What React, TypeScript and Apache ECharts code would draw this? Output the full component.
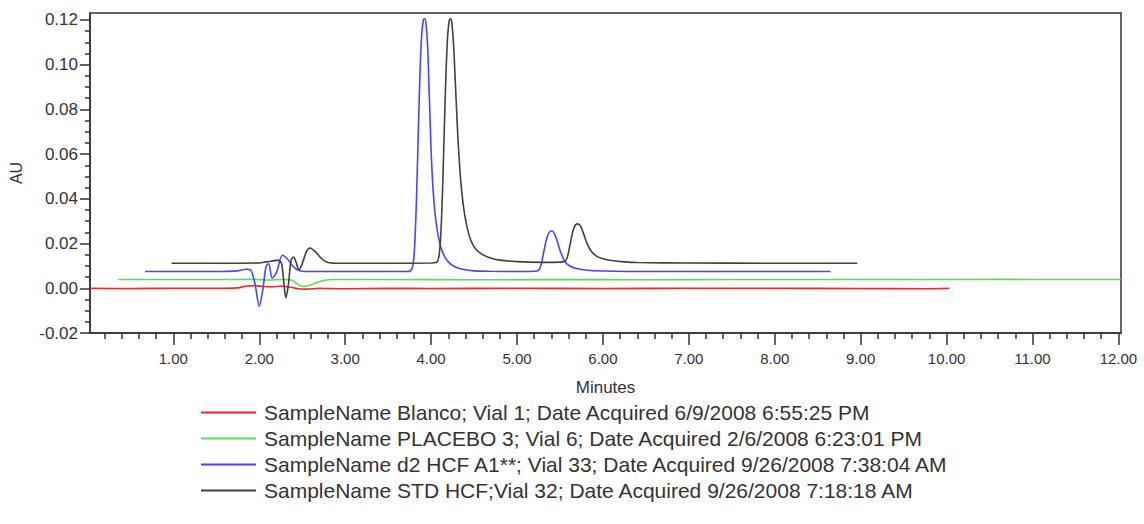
import React, { useEffect, useRef } from "react";
import * as echarts from "echarts";

const seriesNames = [
  "SampleName Blanco; Vial 1; Date Acquired 6/9/2008 6:55:25 PM",
  "SampleName PLACEBO 3; Vial 6; Date Acquired 2/6/2008 6:23:01 PM",
  "SampleName d2 HCF A1**; Vial 33; Date Acquired 9/26/2008 7:38:04 AM",
  "SampleName STD HCF;Vial 32; Date Acquired 9/26/2008 7:18:18 AM",
];
const seriesColors = ["#f02828", "#55e055", "#4646ff", "#404040"];

const blanco: number[][] = [
  [0.03, 0.0], [0.5, -0.0001], [1.0, 0.0], [1.5, 0.0], [1.75, 0.0002], [1.85, 0.001],
  [1.95, 0.0012], [2.05, 0.0008], [2.15, 0.0006], [2.25, 0.001], [2.35, 0.0006],
  [2.45, -0.0002], [2.55, -0.0004], [2.7, 0.0], [3.0, -0.0002], [3.5, 0.0], [4.0, -0.0001],
  [5.0, 0.0], [6.0, -0.0001], [7.0, 0.0], [8.0, 0.0], [9.0, -0.0001], [9.75, -0.0002], [10.03, 0.0],
];

const placebo: number[][] = [
  [0.36, 0.0039], [1.0, 0.0039], [1.5, 0.0039], [1.9, 0.004], [2.1, 0.0037], [2.3, 0.0039],
  [2.38, 0.0037], [2.43, 0.0022], [2.5, 0.0008], [2.58, 0.0012], [2.66, 0.0025], [2.75, 0.0035],
  [2.85, 0.0039], [3.5, 0.0039], [4.5, 0.0038], [5.5, 0.0039], [6.5, 0.0038], [7.5, 0.0039],
  [8.5, 0.0039], [9.5, 0.0039], [10.5, 0.004], [11.5, 0.0039], [12.03, 0.0039],
];

const d2hcf: number[][] = [
  [0.67, 0.0075], [1.5, 0.0075], [1.75, 0.0078], [1.85, 0.0085], [1.9, 0.0082], [1.95, 0.002],
  [2.0, -0.008], [2.04, -0.001], [2.08, 0.01], [2.11, 0.011], [2.15, 0.0045], [2.2, 0.007],
  [2.27, 0.0148], [2.33, 0.013], [2.4, 0.0095], [2.47, 0.0078], [2.55, 0.0075], [3.0, 0.0075],
  [3.5, 0.0075], [3.72, 0.0075], [3.76, 0.0078], [3.79, 0.0105], [3.81, 0.02], [3.83, 0.04],
  [3.85, 0.068], [3.87, 0.095], [3.89, 0.113], [3.91, 0.12], [3.925, 0.1205], [3.94, 0.1185],
  [3.96, 0.108], [3.98, 0.085], [4.0, 0.062], [4.02, 0.046], [4.05, 0.032], [4.09, 0.022],
  [4.14, 0.0155], [4.2, 0.0118], [4.28, 0.0095], [4.38, 0.0084], [4.5, 0.0078], [4.7, 0.0076],
  [5.0, 0.0075], [5.2, 0.0076], [5.25, 0.008], [5.28, 0.0105], [5.31, 0.016], [5.34, 0.0215],
  [5.37, 0.0248], [5.4, 0.0256], [5.43, 0.0248], [5.46, 0.022], [5.5, 0.017], [5.55, 0.0125],
  [5.6, 0.0103], [5.68, 0.009], [5.8, 0.0082], [6.0, 0.0077], [6.3, 0.0075], [7.0, 0.0075],
  [8.0, 0.0075], [8.65, 0.0075],
];

const stdhcf: number[][] = [
  [0.98, 0.0112], [1.5, 0.0112], [2.0, 0.0113], [2.08, 0.0118], [2.15, 0.0122], [2.22, 0.0126],
  [2.26, 0.011], [2.29, 0.001], [2.31, -0.0043], [2.34, 0.002], [2.37, 0.0125], [2.4, 0.014],
  [2.43, 0.0115], [2.46, 0.0082], [2.5, 0.011], [2.55, 0.0165], [2.59, 0.018], [2.65, 0.0165],
  [2.72, 0.0135], [2.8, 0.0115], [2.9, 0.0112], [3.5, 0.0112], [4.0, 0.0113], [4.06, 0.0115],
  [4.09, 0.014], [4.11, 0.022], [4.13, 0.04], [4.15, 0.066], [4.17, 0.092], [4.19, 0.111],
  [4.21, 0.1195], [4.225, 0.1205], [4.24, 0.119], [4.26, 0.11], [4.28, 0.094], [4.3, 0.077],
  [4.32, 0.062], [4.35, 0.046], [4.39, 0.033], [4.44, 0.024], [4.5, 0.0185], [4.58, 0.0155],
  [4.68, 0.0137], [4.8, 0.0126], [5.0, 0.0119], [5.3, 0.0116], [5.5, 0.0117], [5.56, 0.012],
  [5.59, 0.0145], [5.62, 0.02], [5.65, 0.0255], [5.68, 0.0283], [5.71, 0.0288], [5.74, 0.0278],
  [5.77, 0.025], [5.81, 0.0205], [5.86, 0.0168], [5.92, 0.0145], [6.0, 0.0132], [6.1, 0.0124],
  [6.25, 0.0118], [6.4, 0.0115], [7.0, 0.0113], [8.0, 0.0112], [8.96, 0.0112],
];

const xMajorTicks = [1, 2, 3, 4, 5, 6, 7, 8, 9, 10, 11, 12];
const xMinorTicks = [
  0.2, 0.4, 0.6, 0.8, 1.2, 1.4, 1.6, 1.8, 2.2, 2.4, 2.6, 2.8, 3.2, 3.4, 3.6, 3.8,
  4.2, 4.4, 4.6, 4.8, 5.2, 5.4, 5.6, 5.8, 6.2, 6.4, 6.6, 6.8, 7.2, 7.4, 7.6, 7.8,
  8.2, 8.4, 8.6, 8.8, 9.2, 9.4, 9.6, 9.8, 10.2, 10.4, 10.6, 10.8, 11.2, 11.4, 11.6, 11.8,
];
const yMajorTicks = [-0.02, 0, 0.02, 0.04, 0.06, 0.08, 0.1, 0.12];
const yMinorTicks = [
  -0.015, -0.01, -0.005, 0.005, 0.01, 0.015, 0.025, 0.03, 0.035, 0.045, 0.05, 0.055,
  0.065, 0.07, 0.075, 0.085, 0.09, 0.095, 0.105, 0.11, 0.115,
];

const X_MIN = 0.03;
const X_MAX = 12.03;
const Y_MIN = -0.02;
const Y_MAX = 0.1231;

const FONT = "'Liberation Sans', Arial, sans-serif";
const AXIS_COLOR = "#333";

export default function App() {
  const ref = useRef<HTMLDivElement>(null);
  useEffect(() => {
    if (!ref.current) return;
    const chart = echarts.init(ref.current, undefined, { renderer: "svg" });
    const datasets = [blanco, placebo, d2hcf, stdhcf];
    const baseX = {
      type: "value" as const,
      min: X_MIN,
      max: X_MAX,
      position: "bottom" as const,
      splitLine: { show: false },
    };
    const baseY = {
      type: "value" as const,
      min: Y_MIN,
      max: Y_MAX,
      position: "left" as const,
      splitLine: { show: false },
    };
    chart.setOption({
      animation: false,
      backgroundColor: "#fff",
      textStyle: { fontFamily: FONT },
      grid: {
        left: 88,
        right: 23,
        top: 13,
        bottom: 191,
        show: true,
        borderColor: AXIS_COLOR,
        borderWidth: 1.5,
        backgroundColor: "transparent",
      },
      legend: {
        orient: "vertical",
        left: 196,
        top: 397,
        itemWidth: 55,
        itemHeight: 14,
        itemGap: 5,
        icon: "path://M0,6 L55,6 L55,8 L0,8 Z",
        textStyle: { fontSize: 21, lineHeight: 21, color: "#333", fontFamily: FONT, padding: [0, 0, 0, 3] },
        data: seriesNames,
      },
      xAxis: [
        {
          ...baseX,
          name: "Minutes",
          nameLocation: "middle",
          nameGap: 46,
          nameTextStyle: { fontSize: 17, color: AXIS_COLOR, fontFamily: FONT },
          axisLine: { show: true, onZero: false, lineStyle: { color: AXIS_COLOR, width: 1.5 } },
          axisTick: { show: true, customValues: xMajorTicks, length: 12, lineStyle: { color: AXIS_COLOR, width: 1.5 } },
          axisLabel: {
            customValues: xMajorTicks,
            formatter: (v: number) => v.toFixed(2),
            fontSize: 15,
            color: AXIS_COLOR,
            margin: 18,
            fontFamily: FONT,
          },
        },
        {
          ...baseX,
          axisLine: { show: false, onZero: false },
          axisTick: { show: true, customValues: xMinorTicks, length: 6, lineStyle: { color: AXIS_COLOR, width: 1.5 } },
          axisLabel: { show: false },
        },
      ],
      yAxis: [
        {
          ...baseY,
          name: "AU",
          nameLocation: "middle",
          nameGap: 66,
          nameRotate: 90,
          nameTextStyle: { fontSize: 16, color: AXIS_COLOR, fontFamily: FONT },
          axisLine: { show: true, onZero: false, lineStyle: { color: AXIS_COLOR, width: 1.5 } },
          axisTick: { show: true, customValues: yMajorTicks, length: 10, lineStyle: { color: AXIS_COLOR, width: 1.5 } },
          axisLabel: {
            customValues: yMajorTicks,
            formatter: (v: number) => v.toFixed(2),
            fontSize: 17,
            color: AXIS_COLOR,
            margin: 12,
            fontFamily: FONT,
          },
        },
        {
          ...baseY,
          axisLine: { show: false, onZero: false },
          axisTick: { show: true, customValues: yMinorTicks, length: 5, lineStyle: { color: AXIS_COLOR, width: 1.5 } },
          axisLabel: { show: false },
        },
      ],
      series: datasets.map((d, i) => ({
        name: seriesNames[i],
        type: "line",
        data: d,
        xAxisIndex: 0,
        yAxisIndex: 0,
        showSymbol: false,
        symbol: "none",
        smooth: 0.3,
        color: seriesColors[i],
        lineStyle: { width: 1.6, color: seriesColors[i] },
        z: 2 + i,
      })),
    });
    return () => chart.dispose();
  }, []);
  return (
    <div
      ref={ref}
      style={{ position: "fixed", left: 0, top: 0, width: 1144, height: 524, background: "#fff" }}
    />
  );
}
